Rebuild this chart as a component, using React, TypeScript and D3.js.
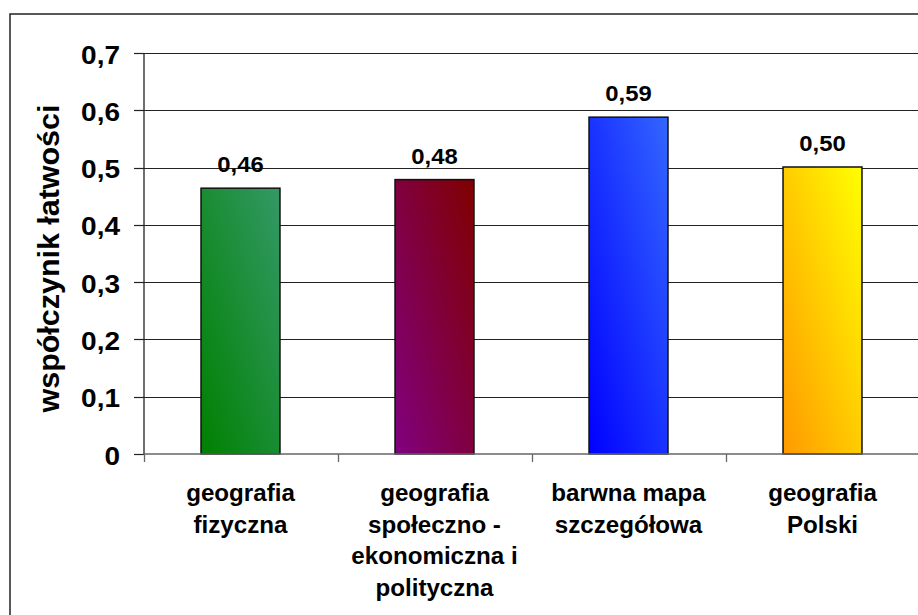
import { useEffect, useRef } from "react";
import * as d3 from "d3";

// Dane wykresu
const categories = [
  ["geografia", "fizyczna"],
  ["geografia", "społeczno -", "ekonomiczna i", "polityczna"],
  ["barwna mapa", "szczegółowa"],
  ["geografia", "Polski"],
];
const values = [0.464, 0.479, 0.588, 0.501];
const valueLabels = ["0,46", "0,48", "0,59", "0,50"];
const yTickValues = [0, 0.1, 0.2, 0.3, 0.4, 0.5, 0.6, 0.7];
const yTickLabels = ["0", "0,1", "0,2", "0,3", "0,4", "0,5", "0,6", "0,7"];
const yTitle = "współczynik łatwości";

// kolory gradientów: [dolny lewy, górny prawy]
const barGradients = [
  ["#008000", "#339966"],
  ["#800080", "#800000"],
  ["#0000ff", "#3366ff"],
  ["#ff9900", "#ffff00"],
];

const WIDTH = 918;
const HEIGHT = 615;
const FONT = "'Liberation Sans', Arial, sans-serif";

export default function App() {
  const svgRef = useRef<SVGSVGElement>(null);

  useEffect(() => {
    if (!svgRef.current) return;
    document.body.style.margin = "0";
    const svg = d3.select(svgRef.current);
    svg.selectAll("*").remove();

    const plot = { left: 143.5, right: 919.5, top: 53, bottom: 454 };

    const x = d3
      .scaleBand<number>()
      .domain(d3.range(categories.length))
      .range([plot.left, plot.right])
      .paddingInner(0.593)
      .paddingOuter(0.2965);

    const xBands = d3
      .scaleBand<number>()
      .domain(d3.range(categories.length))
      .range([plot.left, plot.right])
      .padding(0);

    const y = d3.scaleLinear().domain([0, 0.7]).range([plot.bottom, plot.top]);

    // Gradienty
    const defs = svg.append("defs");
    barGradients.forEach(([c0, c1], i) => {
      const grad = defs
        .append("linearGradient")
        .attr("id", `bar-grad-${i}`)
        .attr("x1", 0)
        .attr("y1", 1)
        .attr("x2", 1)
        .attr("y2", 0);
      grad.append("stop").attr("offset", "0%").attr("stop-color", c0);
      grad.append("stop").attr("offset", "100%").attr("stop-color", c1);
    });

    svg.append("rect").attr("width", WIDTH).attr("height", HEIGHT).attr("fill", "#fff");

    // Ramka
    svg
      .append("rect")
      .attr("x", 10)
      .attr("y", 14)
      .attr("width", 940)
      .attr("height", 640)
      .attr("fill", "none")
      .attr("stroke", "#222")
      .attr("stroke-width", 1.5);

    // Siatka
    svg
      .append("g")
      .selectAll("line")
      .data(yTickValues.filter((d) => d > 0))
      .enter()
      .append("line")
      .attr("x1", plot.left)
      .attr("x2", WIDTH)
      .attr("y1", (d) => Math.round(y(d)) + 0.5)
      .attr("y2", (d) => Math.round(y(d)) + 0.5)
      .attr("stroke", "#222")
      .attr("stroke-width", 1.2);

    // Oś Y
    svg
      .append("line")
      .attr("x1", 144)
      .attr("x2", 144)
      .attr("y1", plot.top)
      .attr("y2", plot.bottom)
      .attr("stroke", "#222")
      .attr("stroke-width", 1.3);

    const yTicks = svg.append("g");
    yTickValues.forEach((v, i) => {
      const yy = Math.round(y(v)) + 0.5;
      yTicks
        .append("line")
        .attr("x1", 134)
        .attr("x2", 144)
        .attr("y1", yy)
        .attr("y2", yy)
        .attr("stroke", "#222")
        .attr("stroke-width", 1.2);
      yTicks
        .append("text")
        .attr("transform", `translate(120,${y(v) + 10.5}) scale(1.12,1)`)
        .attr("text-anchor", "end")
        .style("font-family", FONT)
        .style("font-weight", "bold")
        .style("font-size", "25px")
        .style("fill", "#000")
        .text(yTickLabels[i]);
    });

    // Słupki
    svg
      .append("g")
      .selectAll("rect")
      .data(values)
      .enter()
      .append("rect")
      .attr("x", (_, i) => x(i) || 0)
      .attr("y", (d) => y(d))
      .attr("width", x.bandwidth())
      .attr("height", (d) => plot.bottom - y(d))
      .attr("fill", (_, i) => `url(#bar-grad-${i})`)
      .attr("stroke", "#111")
      .attr("stroke-width", 1.5);

    // Oś X
    svg
      .append("line")
      .attr("x1", plot.left)
      .attr("x2", WIDTH)
      .attr("y1", plot.bottom)
      .attr("y2", plot.bottom)
      .attr("stroke", "#666")
      .attr("stroke-width", 1.6);

    svg
      .append("g")
      .selectAll("line")
      .data(d3.range(categories.length))
      .enter()
      .append("line")
      .attr("x1", (i) => Math.round(xBands(i) || 0) + 0.5)
      .attr("x2", (i) => Math.round(xBands(i) || 0) + 0.5)
      .attr("y1", plot.bottom)
      .attr("y2", plot.bottom + 8)
      .attr("stroke", "#666")
      .attr("stroke-width", 1.3);

    // Etykiety wartości
    svg
      .append("g")
      .selectAll("text")
      .data(values)
      .enter()
      .append("text")
      .attr(
        "transform",
        (d, i) => `translate(${(x(i) || 0) + x.bandwidth() / 2},${y(d) - 16}) scale(1.06,1)`
      )
      .attr("text-anchor", "middle")
      .style("font-family", FONT)
      .style("font-weight", "bold")
      .style("font-size", "22.5px")
      .style("fill", "#000")
      .text((_, i) => valueLabels[i]);

    // Etykiety kategorii
    const catG = svg.append("g");
    categories.forEach((lines, i) => {
      const cx = (xBands(i) || 0) + xBands.bandwidth() / 2;
      lines.forEach((line, j) => {
        catG
          .append("text")
          .attr("transform", `translate(${cx},${501 + j * 31.5}) scale(1.05,1)`)
          .attr("text-anchor", "middle")
          .style("font-family", FONT)
          .style("font-weight", "bold")
          .style("font-size", "23px")
          .style("fill", "#000")
          .text(line);
      });
    });

    // Tytuł osi Y
    svg
      .append("text")
      .attr(
        "transform",
        `translate(59,${(plot.top + plot.bottom) / 2 + 5}) rotate(-90) scale(1.05,1)`
      )
      .attr("text-anchor", "middle")
      .style("font-family", FONT)
      .style("font-weight", "bold")
      .style("font-size", "29px")
      .style("fill", "#000")
      .text(yTitle);
  }, []);

  return (
    <svg
      ref={svgRef}
      width={WIDTH}
      height={HEIGHT}
      style={{ position: "absolute", left: 0, top: 0, display: "block" }}
    />
  );
}
